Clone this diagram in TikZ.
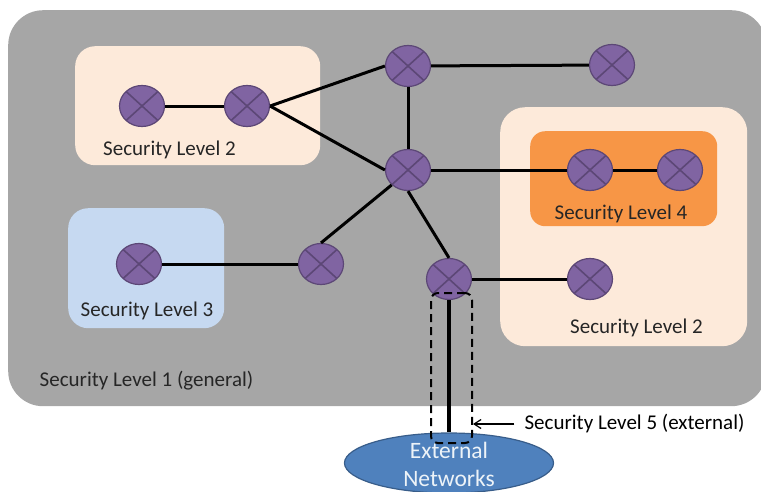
\documentclass[tikz,border=0pt]{standalone}
\usepackage{fontspec}
\setmainfont{Carlito}
\usetikzlibrary{positioning,arrows,arrows.meta,shapes.geometric}
\definecolor{zonegray}{HTML}{A6A6A6}
\definecolor{zonecream}{HTML}{FDEADA}
\definecolor{zoneblue}{HTML}{C6D9F1}
\definecolor{zoneorange}{HTML}{F79646}
\definecolor{routerfill}{HTML}{8064A2}
\definecolor{routerline}{HTML}{5C4776}
\definecolor{extfill}{HTML}{4F81BD}
\definecolor{extline}{HTML}{385D8A}
\tikzset{
	zone/.style={rounded corners=#1, inner sep=0pt, anchor=north west},
	router/.style={ellipse, draw=routerline, line width=1.2pt, fill=routerfill, minimum width=45, minimum height=41, inner sep=0pt,
		path picture={\draw[routerline, line width=1.6pt] (path picture bounding box.north west) -- (path picture bounding box.south east) (path picture bounding box.north east) -- (path picture bounding box.south west);}},
	lbl/.style={font=\fontsize{21}{24}\selectfont, text=black!85, inner sep=0pt},
	link/.style={line width=3pt, black},
}
\begin{document}
\begin{tikzpicture}[x=1pt, y=-1pt]
		\useasboundingbox (0,0) rectangle (761,491);
		\clip (0,0) rectangle (761,491);
		\node [zone=35, fill=zonegray, minimum width=758, minimum height=396] (z1) at (8,10) {};
		\node [zone=20, fill=zonecream, minimum width=245, minimum height=119] (z2) at (75,46) {};
		\node [zone=20, fill=zoneblue, minimum width=156, minimum height=120] (z3) at (68,208) {};
		\node [zone=25, fill=zonecream, minimum width=247, minimum height=239] (z2b) at (500,107) {};
		\node [zone=15, fill=zoneorange, minimum width=187, minimum height=95] (z4) at (530,131) {};

		\node [router] (r1) at (142,106) {};
		\node [router] (r2) at (247,106) {};
		\node [router] (r3) at (408,66) {};
		\node [router] (r4) at (612,65) {};
		\node [router] (r5) at (408,170) {};
		\node [router] (r6) at (590,170) {};
		\node [router] (r7) at (680,170) {};
		\node [router] (r8) at (321,264) {};
		\node [router] (r9) at (139,264) {};
		\node [router] (r10) at (449,279) {};
		\node [router] (r11) at (590,279) {};
		\node [ellipse, draw=extline, line width=1.2pt, fill=extfill, minimum width=209, minimum height=60, inner sep=0pt] (ext) at (449,463) {};

		\draw [link] (r1) -- (r2);
		\draw [link] (r2.east) -- (r3.west);
		\draw [link] (r2.east) -- (r5.west);
		\draw [link] (r3) -- (r4);
		\draw [link] (r3) -- (r5);
		\draw [link] (r5) -- (r6);
		\draw [link] (r6) -- (r7);
		\draw [link] (r5.south west) -- (r8.north);
		\draw [link] (r8) -- (r9);
		\draw [link] (r5.south) -- (r10.north);
		\draw [link] (r10) -- (r11);
		\draw [link, line width=3.5pt] (r10) -- (ext);

		\node [lbl] (t2) at (169.5,150) {Security Level 2};
		\node [lbl] (t3) at (147,311) {Security Level 3};
		\node [lbl] (t4) at (621,214) {Security Level 4};
		\node [lbl] (t2b) at (636.5,328) {Security Level 2};
		\node [lbl] (t1) at (146.5,381) {Security Level 1 (general)};
		\node [lbl, text=black] (t5) at (634.5,424) {Security Level 5 (external)};
		\node [font=\fontsize{23.5}{28}\selectfont, text=white!90!extfill, align=center, inner sep=0pt] (tx) at (449,464) {External\\Networks};

		\node [zone=7, draw, dash pattern=on 8pt off 5pt, line width=2pt, minimum width=41, minimum height=150] (z5) at (430,292) {};
		\draw [-{Straight Barb[length=7pt,width=9pt]}, line width=1.2pt] (t5.west) ++(-10,0) -- (z5.east |- t5.west);
\end{tikzpicture}
\end{document}
